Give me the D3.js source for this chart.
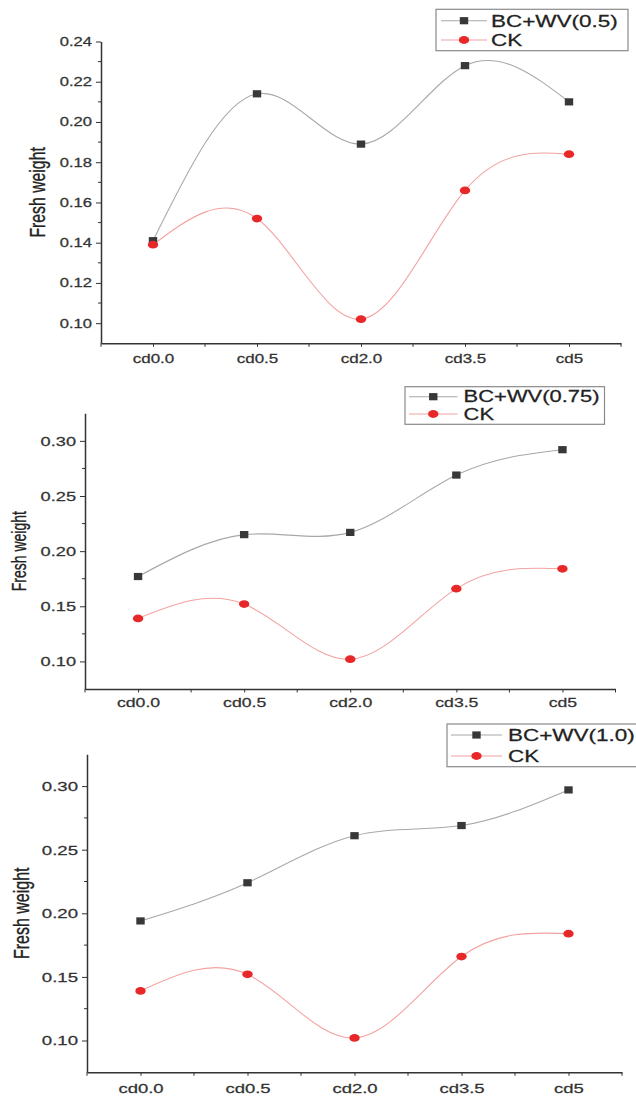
<!DOCTYPE html>
<html>
<head>
<meta charset="utf-8">
<script src="https://cdn.jsdelivr.net/npm/d3@7"></script>
<style>
  html, body { margin: 0; padding: 0; background: #fff; }
  svg { display: block; font-family: "Liberation Sans", Arial, sans-serif; }
  svg text { stroke: currentColor; stroke-width: 0.25; }
</style>
</head>
<body>
<div id="chart"></div>
<script>
// data
const categories = ["cd0.0", "cd0.5", "cd2.0", "cd3.5", "cd5"];
const ck = [0.139, 0.152, 0.102, 0.166, 0.184];
const bcwv05 = [0.141, 0.214, 0.189, 0.228, 0.210];
const bcwv075 = [0.177, 0.215, 0.217, 0.269, 0.292];
const bcwv10 = [0.194, 0.224, 0.261, 0.269, 0.297];
const seriesNames = ["BC+WV(0.5)", "BC+WV(0.75)", "BC+WV(1.0)"];
const ckName = "CK";
const yTitle = "Fresh weight";

const yTicksA = [0.10, 0.12, 0.14, 0.16, 0.18, 0.20, 0.22, 0.24];
const yMinorA = [0.11, 0.13, 0.15, 0.17, 0.19, 0.21, 0.23];
const yTicksB = [0.10, 0.15, 0.20, 0.25, 0.30];
const yMinorB = [0.125, 0.175, 0.225, 0.275];

// the source image is stretched sideways, so text gets the same stretch
const SX = 1.38;
const W = 636, H = 1100;

const panels = [
  { values: bcwv05, name: seriesNames[0], ticks: yTicksA, minor: yMinorA, fmt: d3.format(".2f"),
    yDomain: [0.09, 0.24], yRange: [343.3, 41.5], xRange: [101, 621],
    tickFont: 12, xFont: 12.3, titleFont: 15.8, titleX: 37, legFont: 16.3,
    xLabOff: 16, leg: { x: 436, y: 9.3, w: 192, h: 41.4, l0: 441, l1: 487, tx: 491, r0: 20.7, r1: 40 } },
  { values: bcwv075, name: seriesNames[1], ticks: yTicksB, minor: yMinorB, fmt: d3.format(".2f"),
    yDomain: [0.075, 0.325], yRange: [689, 413.3], xRange: [85, 615.5],
    tickFont: 13.2, xFont: 12.8, titleFont: 14, titleX: 19, legFont: 15.9,
    xLabOff: 13.5, leg: { x: 405, y: 386.7, w: 199.5, h: 37.6, l0: 409, l1: 457.5, tx: 463.6, r0: 396.7, r1: 414 } },
  { values: bcwv10, name: seriesNames[2], ticks: yTicksB, minor: yMinorB, fmt: d3.format(".2f"),
    yDomain: [0.075, 0.325], yRange: [1072.3, 754.3], xRange: [87, 622],
    tickFont: 13.5, xFont: 13.4, titleFont: 16, titleX: 21, legFont: 16.3,
    xLabOff: 16, leg: { x: 447, y: 724, w: 200, h: 42.7, l0: 451, l1: 502, tx: 508, r0: 735, r1: 756 } }
];

const axisColor = "#333";
const bcLine = "#a8a8a8", bcMark = "#383838";
const ckLine = "#f4a2a2", ckMark = "#e82828";

const svg = d3.select("#chart").append("svg")
  .attr("width", W).attr("height", H);

function stretched(sel, x, y, rot) {
  return sel.attr("transform", "translate(" + x + "," + y + ") scale(" + SX + ",1)" + (rot ? " rotate(" + rot + ")" : ""));
}

function drawMarker(g, kind, cx, cy) {
  if (kind === "square") {
    g.append("rect")
      .attr("x", cx - 4.2).attr("y", cy - 3.6)
      .attr("width", 8.4).attr("height", 7.2)
      .attr("fill", bcMark);
  } else {
    g.append("ellipse")
      .attr("cx", cx).attr("cy", cy)
      .attr("rx", 5.2).attr("ry", 3.9)
      .attr("fill", ckMark);
  }
}

panels.forEach(function(p) {
  const g = svg.append("g");

  const x = d3.scaleLinear().domain([-0.5, categories.length - 0.5]).range(p.xRange);
  const y = d3.scaleLinear().domain(p.yDomain).range(p.yRange);
  const yBase = p.yRange[0];
  const xLeft = p.xRange[0];

  // minor ticks on y
  g.append("g").selectAll("line").data(p.minor).join("line")
    .attr("x1", xLeft - 3).attr("x2", xLeft)
    .attr("y1", d => y(d)).attr("y2", d => y(d))
    .attr("stroke", axisColor).attr("stroke-width", 1);

  // y axis
  const yAxis = g.append("g")
    .attr("transform", "translate(" + xLeft + ",0)")
    .call(d3.axisLeft(y).tickValues(p.ticks).tickFormat(p.fmt).tickSize(5).tickSizeOuter(0).tickPadding(4));
  yAxis.select(".domain").attr("stroke", axisColor).attr("stroke-width", 1.5);
  yAxis.selectAll(".tick line").attr("stroke", axisColor).attr("stroke-width", 1);
  yAxis.selectAll(".tick text")
    .attr("x", -9 / SX)
    .attr("transform", "scale(" + SX + ",1)")
    .attr("fill", "#333").attr("color", "#333")
    .attr("font-size", p.tickFont)
    .attr("font-family", "Liberation Sans, Arial, sans-serif");

  // x axis: categories at integers, minor ticks between
  const halfSteps = d3.range(-0.5, categories.length, 1);
  g.append("g").selectAll("line").data(halfSteps).join("line")
    .attr("x1", d => x(d)).attr("x2", d => x(d))
    .attr("y1", yBase).attr("y2", yBase + 3.5)
    .attr("stroke", axisColor).attr("stroke-width", 1);

  const xAxis = g.append("g")
    .attr("transform", "translate(0," + yBase + ")")
    .call(d3.axisBottom(x).tickValues(d3.range(categories.length)).tickFormat(i => categories[i]).tickSize(3.5).tickSizeOuter(0));
  xAxis.select(".domain").attr("stroke", axisColor).attr("stroke-width", 1.5);
  xAxis.selectAll(".tick line").attr("stroke", axisColor).attr("stroke-width", 1);
  xAxis.selectAll(".tick text")
    .attr("y", 0).attr("dy", null)
    .attr("transform", "translate(0," + p.xLabOff + ") scale(" + SX + ",1)")
    .attr("dominant-baseline", "central")
    .attr("fill", "#333").attr("color", "#333")
    .attr("font-size", p.xFont)
    .attr("font-family", "Liberation Sans, Arial, sans-serif");

  // y title
  stretched(g.append("text"), p.titleX, (p.yRange[0] + p.yRange[1]) / 2, -90)
    .attr("text-anchor", "middle")
    .attr("dy", "0.35em")
    .attr("font-size", p.titleFont)
    .attr("fill", "#222").attr("color", "#222")
    .text(yTitle);

  // lines
  const line = d3.line()
    .x((d, i) => x(i))
    .y(d => y(d))
    .curve(d3.curveNatural);

  g.append("path").attr("d", line(p.values))
    .attr("fill", "none").attr("stroke", bcLine).attr("stroke-width", 1.1);
  g.append("path").attr("d", line(ck))
    .attr("fill", "none").attr("stroke", ckLine).attr("stroke-width", 1.1);

  p.values.forEach((v, i) => drawMarker(g, "square", x(i), y(v)));
  ck.forEach((v, i) => drawMarker(g, "circle", x(i), y(v)));

  // legend
  const L = p.leg;
  g.append("rect")
    .attr("x", L.x).attr("y", L.y).attr("width", L.w).attr("height", L.h)
    .attr("fill", "#fff").attr("stroke", "#8a8a8a").attr("stroke-width", 1.2);

  const rows = [
    { name: p.name, stroke: bcLine, kind: "square", y: L.r0 },
    { name: ckName, stroke: ckLine, kind: "circle", y: L.r1 }
  ];
  rows.forEach(function(r) {
    g.append("line")
      .attr("x1", L.l0).attr("x2", L.l1).attr("y1", r.y).attr("y2", r.y)
      .attr("stroke", r.stroke).attr("stroke-width", 1.1);
    drawMarker(g, r.kind, (L.l0 + L.l1) / 2, r.y);
    stretched(g.append("text"), L.tx, r.y)
      .attr("dy", "0.36em")
      .attr("font-size", p.legFont)
      .attr("fill", "#222").attr("color", "#222")
      .text(r.name);
  });
});
</script>
</body>
</html>
